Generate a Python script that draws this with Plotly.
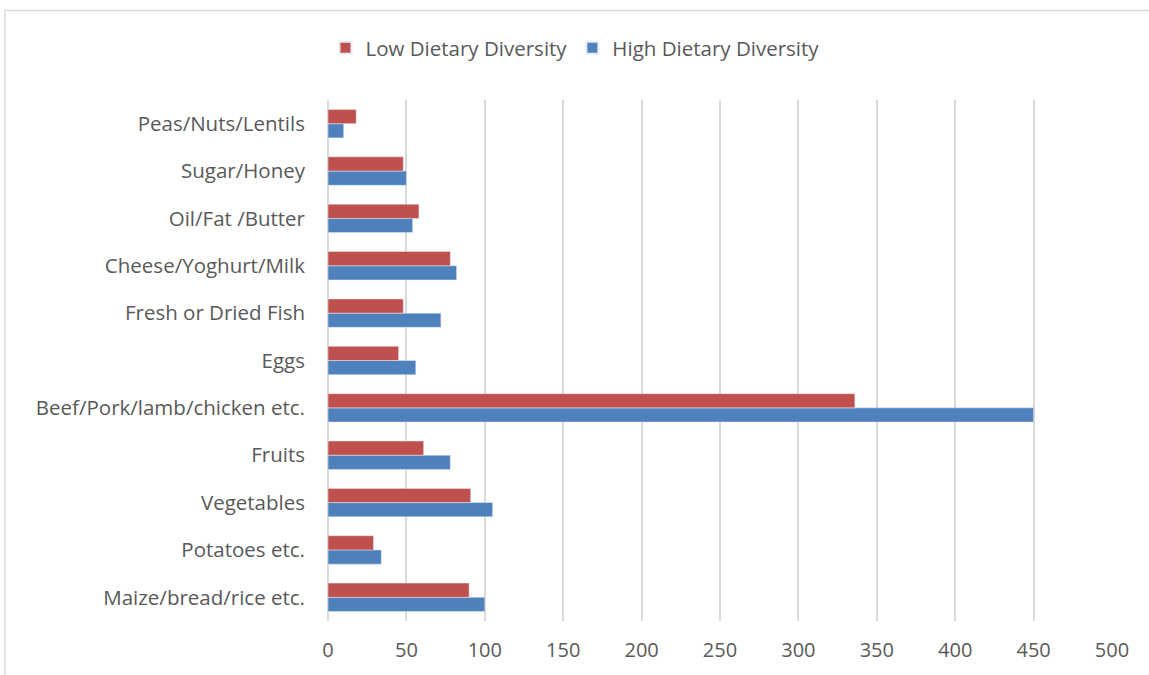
import plotly.graph_objects as go

categories = ["Maize/bread/rice etc.", "Potatoes etc.", "Vegetables", "Fruits",
              "Beef/Pork/lamb/chicken etc.", "Eggs", "Fresh or Dried Fish",
              "Cheese/Yoghurt/Milk", "Oil/Fat /Butter", "Sugar/Honey", "Peas/Nuts/Lentils"]
low_diversity = [90, 29, 91, 61, 336, 45, 48, 78, 58, 48, 18]
high_diversity = [100, 34, 105, 78, 450, 56, 72, 82, 54, 50, 10]
x_ticks = [0, 50, 100, 150, 200, 250, 300, 350, 400, 450, 500]

FONT = "Open Sans"
TXT = "#595959"

fig = go.Figure()
fig.add_trace(go.Bar(y=categories, x=high_diversity, orientation="h",
                     name="High Dietary Diversity", marker_color="#4F81BD",
                     legendrank=2))
fig.add_trace(go.Bar(y=categories, x=low_diversity, orientation="h",
                     name="Low Dietary Diversity", marker_color="#C0504D",
                     legendrank=1))

fig.update_layout(
    width=1149, height=675,
    margin=dict(l=328, r=37, t=100, b=54),
    paper_bgcolor="white", plot_bgcolor="white",
    barmode="group", bargap=0.4, bargroupgap=0,
    font=dict(family=FONT, size=20, color=TXT),
    legend=dict(orientation="h", x=0.315, xanchor="center", y=1.1, yanchor="middle",
                font=dict(size=20.5, color=TXT), itemwidth=30,
                itemsizing="constant"),
    xaxis=dict(range=[0, 500], tickvals=x_ticks, showgrid=True, gridcolor="#D9D9D9",
               gridwidth=1.8, zeroline=True, zerolinecolor="#D9D9D9", zerolinewidth=1.8,
               showline=False, ticks="", ticklabelstandoff=15,
               tickfont=dict(size=20, color=TXT)),
    yaxis=dict(showgrid=False, ticks="", ticklabelstandoff=22,
               tickfont=dict(size=20.5, color=TXT)),
    shapes=[dict(type="rect", xref="paper", yref="paper",
                 x0=(5 - 328) / 784, x1=1.2, y0=-0.2, y1=(620.6 - 11) / 520.2,
                 line=dict(color="#D9D9D9", width=1.5), fillcolor="rgba(0,0,0,0)",
                 layer="below")],
)

fig.write_html("out.html")
